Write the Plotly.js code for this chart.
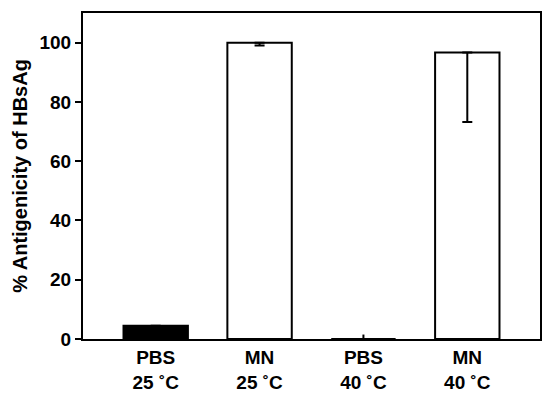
<!DOCTYPE html>
<html>
<head>
<meta charset="utf-8">
<script src="https://cdn.plot.ly/plotly-3.0.1.min.js"></script>
<style>
  body { margin: 0; }
  #chart { width: 550px; height: 396px; }
</style>
</head>
<body>
<div id="chart"></div>
<script>
var groups = ['PBS<br>25 ˚C', 'MN<br>25 ˚C', 'PBS<br>40 ˚C', 'MN<br>40 ˚C'];
var antigenicity = [4.5, 100, 0, 96.7];
var errUp = [0, 0, 1.5, 0];
var errDown = [0, 1, 0, 23.5];
var barColors = ['black', 'white', 'white', 'white'];

// bars with downward error bars (capped)
var bars = {
  x: [0, 1, 2, 3],
  y: antigenicity,
  type: 'bar',
  width: 0.62,
  marker: { color: barColors, line: { color: 'black', width: 2 } },
  error_y: {
    type: 'data',
    symmetric: false,
    array: [0, 0, 0, 0],
    arrayminus: errDown,
    color: 'black',
    thickness: 2,
    width: 5
  },
  hoverinfo: 'none'
};

// upward error with no cap (PBS 40 C)
var upErr = {
  x: [0, 1, 2, 3],
  y: antigenicity,
  type: 'scatter',
  mode: 'markers',
  marker: { size: 0.1, color: 'rgba(0,0,0,0)' },
  error_y: {
    type: 'data',
    symmetric: false,
    array: errUp,
    arrayminus: [0, 0, 0, 0],
    color: 'black',
    thickness: 2,
    width: 0
  },
  hoverinfo: 'none'
};

var tickFont = { family: 'Liberation Sans, Arial, sans-serif', size: 19, color: 'black', weight: 'bold' };

var layout = {
  width: 550,
  height: 396,
  margin: { l: 83, r: 10, t: 13, b: 57 },
  paper_bgcolor: 'white',
  plot_bgcolor: 'white',
  showlegend: false,
  xaxis: {
    range: [-0.7, 3.7],
    tickvals: [0, 1, 2, 3],
    ticktext: groups,
    ticks: '',
    showline: true,
    linecolor: 'black',
    linewidth: 2,
    mirror: true,
    showgrid: false,
    zeroline: false,
    tickfont: tickFont,
    fixedrange: true
  },
  yaxis: {
    range: [0, 110],
    tickvals: [0, 20, 40, 60, 80, 100],
    ticks: 'outside',
    ticklen: 6,
    tickwidth: 2,
    tickcolor: 'black',
    showline: true,
    linecolor: 'black',
    linewidth: 2,
    mirror: true,
    showgrid: false,
    zeroline: false,
    tickfont: tickFont,
    title: {
      text: '% Antigenicity of HBsAg',
      font: { family: 'Liberation Sans, Arial, sans-serif', size: 20, color: 'black', weight: 'bold' },
      standoff: 6
    },
    fixedrange: true
  }
};

Plotly.newPlot('chart', [bars, upErr], layout, { displayModeBar: false, staticPlot: true });
</script>
</body>
</html>
